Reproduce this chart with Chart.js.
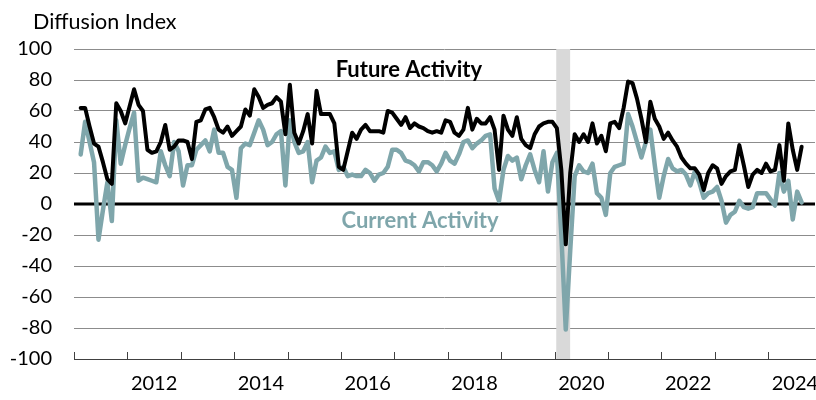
<!DOCTYPE html>
<html>
<head>
<meta charset="utf-8">
<script src="https://cdn.jsdelivr.net/npm/chart.js@4.4.1/dist/chart.umd.min.js"></script>
<style>
  html, body { margin: 0; padding: 0; background: #fff; }
  #wrap { width: 816px; height: 400px; }
</style>
</head>
<body>
<div id="wrap"><canvas id="chart" width="816" height="400"></canvas></div>
<script>
// monthly survey readings, first one is Feb 2011
const startYear = 2011;
const startMonth = 2;

const futureActivity = [
  62, 62, 50, 39, 37, 27, 16, 13, 65, 60, 52,          // 2011
  63, 74, 64, 60, 35, 33, 34, 40, 51, 35, 37, 41,      // 2012
  41, 40, 29, 53, 54, 61, 62, 56, 48, 46, 50, 44,      // 2013
  47, 50, 61, 57, 74, 69, 62, 64, 65, 69, 66, 45,      // 2014
  77, 46, 39, 47, 58, 39, 73, 58, 58, 58, 52, 24,      // 2015
  22, 34, 46, 42, 48, 51, 47, 47, 47, 46, 60, 59,      // 2016
  55, 51, 56, 49, 52, 50, 49, 47, 46, 47, 46, 54,      // 2017
  53, 46, 44, 48, 62, 48, 55, 52, 52, 56, 48, 22,      // 2018
  57, 48, 44, 56, 42, 38, 36, 45, 50, 52, 53, 53,      // 2019
  49, 22, -26, 20, 45, 40, 45, 40, 52, 39, 44, 34,     // 2020
  52, 53, 49, 62, 79, 78, 68, 55, 40, 66, 55, 50,      // 2021
  42, 46, 41, 37, 30, 26, 23, 23, 19, 9, 20, 25,       // 2022
  23, 13, 18, 21, 22, 38, 25, 11, 19, 22, 20, 26,      // 2023
  21, 22, 38, 15, 52, 35, 22, 37                       // 2024
];

const currentActivity = [
  32, 53, 40, 27, -23, -4, 14, -11, 54, 26, 38,        // 2011
  49, 59, 15, 17, 16, 15, 14, 34, 25, 18, 40, 34,      // 2012
  12, 25, 25, 35, 38, 41, 34, 48, 33, 33, 24, 22,      // 2013
  4, 36, 39, 38, 46, 54, 48, 38, 40, 45, 47, 12,       // 2014
  54, 40, 33, 34, 40, 14, 28, 30, 37, 33, 34, 22,      // 2015
  24, 18, 19, 18, 18, 22, 20, 15, 19, 20, 24, 35,      // 2016
  35, 33, 28, 27, 25, 21, 27, 27, 25, 21, 26, 33,      // 2017
  28, 26, 32, 40, 41, 36, 39, 41, 44, 45, 10, 2,       // 2018
  22, 31, 28, 30, 16, 25, 32, 22, 14, 34, 8, 27,       // 2019
  33, -20, -81, -30, 18, 25, 21, 20, 26, 7, 4, -7,     // 2020
  20, 24, 25, 26, 58, 50, 40, 30, 40, 48, 25, 4,       // 2021
  18, 29, 23, 21, 22, 19, 12, 21, 14, 4, 7, 8,         // 2022
  11, 2, -12, -7, -5, 2, -2, -3, -2, 7, 7, 7,          // 2023
  3, -1, 20, 8, 15, -10, 8, 1                          // 2024
];

const yearLabels = [2012, 2014, 2016, 2018, 2020, 2022, 2024];
const yearTicks = [2011, 2012, 2013, 2014, 2015, 2016, 2017, 2018, 2019, 2020, 2021, 2022, 2023, 2024];
const yTicks = [-100, -80, -60, -40, -20, 0, 20, 40, 60, 80, 100];
const recession = [2020.03, 2020.29];

const BLACK = "#000000";
const TEAL = "#7FA6AB";
const GRID = "#8c8c8c";
const FONT = "Lato, 'Open Sans', sans-serif";

// "2011-02" style labels, then decimal year (mid month) for the linear axis
const monthLabels = futureActivity.map((_, i) => {
    const m = startMonth - 1 + i;
    return `${startYear + Math.floor(m / 12)}-${String(m % 12 + 1).padStart(2, "0")}`;
});
function toDecimalYear(label) {
    const [y, m] = label.split("-").map(Number);
    return y + (m - 0.5) / 12;
}
const futurePoints = futureActivity.map((v, i) => ({ x: toDecimalYear(monthLabels[i]), y: v }));
const currentPoints = currentActivity.map((v, i) => ({ x: toDecimalYear(monthLabels[i]), y: v }));

// shaded recession band + zero line redrawn on top of it + inward year ticks
const bandPlugin = {
    id: "band",
    beforeDatasetsDraw(chart) {
        const { ctx, chartArea, scales } = chart;
        const x0 = scales.x.getPixelForValue(recession[0]);
        const x1 = scales.x.getPixelForValue(recession[1]);
        ctx.save();
        ctx.fillStyle = "#d9d9d9";
        ctx.fillRect(x0, chartArea.top, x1 - x0, chartArea.bottom - chartArea.top);

        const y0 = scales.y.getPixelForValue(0);
        ctx.strokeStyle = BLACK;
        ctx.lineWidth = 3;
        ctx.beginPath();
        ctx.moveTo(chartArea.left, y0);
        ctx.lineTo(chartArea.right, y0);
        ctx.stroke();

        ctx.strokeStyle = "#404040";
        ctx.lineWidth = 1;
        yearTicks.forEach(yr => {
            const px = Math.round(scales.x.getPixelForValue(yr)) + 0.5;
            ctx.beginPath();
            ctx.moveTo(px, chartArea.bottom - 7);
            ctx.lineTo(px, chartArea.bottom);
            ctx.stroke();
        });
        ctx.restore();
    }
};

// series names inside the plot + the unit title top left
const textPlugin = {
    id: "texts",
    afterDatasetsDraw(chart) {
        const { ctx, scales } = chart;
        ctx.save();
        ctx.textAlign = "center";
        ctx.textBaseline = "middle";
        ctx.font = `bold 22px ${FONT}`;
        ctx.fillStyle = BLACK;
        ctx.fillText("Future Activity", scales.x.getPixelForValue(2017.27), scales.y.getPixelForValue(86.5));
        ctx.fillStyle = TEAL;
        ctx.fillText("Current Activity", scales.x.getPixelForValue(2017.48), scales.y.getPixelForValue(-11));

        ctx.textAlign = "left";
        ctx.fillStyle = BLACK;
        ctx.font = `21.5px ${FONT}`;
        ctx.fillText("Diffusion Index", 33, 22);
        ctx.restore();
    }
};

new Chart(document.getElementById("chart"), {
    type: "line",
    data: {
        datasets: [
            {
                label: "Future Activity",
                data: futurePoints,
                borderColor: BLACK,
                borderWidth: 4,
                pointRadius: 0,
                tension: 0,
                borderJoinStyle: "round",
                borderCapStyle: "round"
            },
            {
                label: "Current Activity",
                data: currentPoints,
                borderColor: TEAL,
                borderWidth: 4.5,
                pointRadius: 0,
                tension: 0,
                borderJoinStyle: "round",
                borderCapStyle: "round"
            }
        ]
    },
    options: {
        responsive: false,
        animation: false,
        layout: { padding: { top: 49, right: 1, bottom: 0, left: 0 } },
        plugins: {
            legend: { display: false },
            tooltip: { enabled: false }
        },
        scales: {
            x: {
                type: "linear",
                min: 2011,
                max: 2024.875,
                afterBuildTicks: scale => { scale.ticks = yearLabels.map(y => ({ value: y + 0.5 })); },
                afterFit: scale => {
                    scale.height = 41;
                    scale.paddingLeft = 0;
                    scale.paddingRight = 0;
                },
                ticks: {
                    callback: v => String(Math.floor(v)),
                    color: BLACK,
                    font: { family: FONT, size: 20 },
                    padding: 13,
                    autoSkip: false,
                    maxRotation: 0
                },
                grid: { display: false, drawTicks: false },
                border: { display: true, color: "#404040", width: 1 }
            },
            y: {
                min: -100,
                max: 100,
                afterBuildTicks: scale => { scale.ticks = yTicks.map(v => ({ value: v })); },
                afterFit: scale => { scale.width = 74; },
                ticks: {
                    color: BLACK,
                    font: { family: FONT, size: 20 },
                    padding: 22
                },
                grid: {
                    drawTicks: false,
                    color: ctx => (ctx.tick && ctx.tick.value === -100 ? "#404040" : GRID),
                    lineWidth: 1
                },
                border: { display: false }
            }
        }
    },
    plugins: [bandPlugin, textPlugin]
});
</script>
</body>
</html>
